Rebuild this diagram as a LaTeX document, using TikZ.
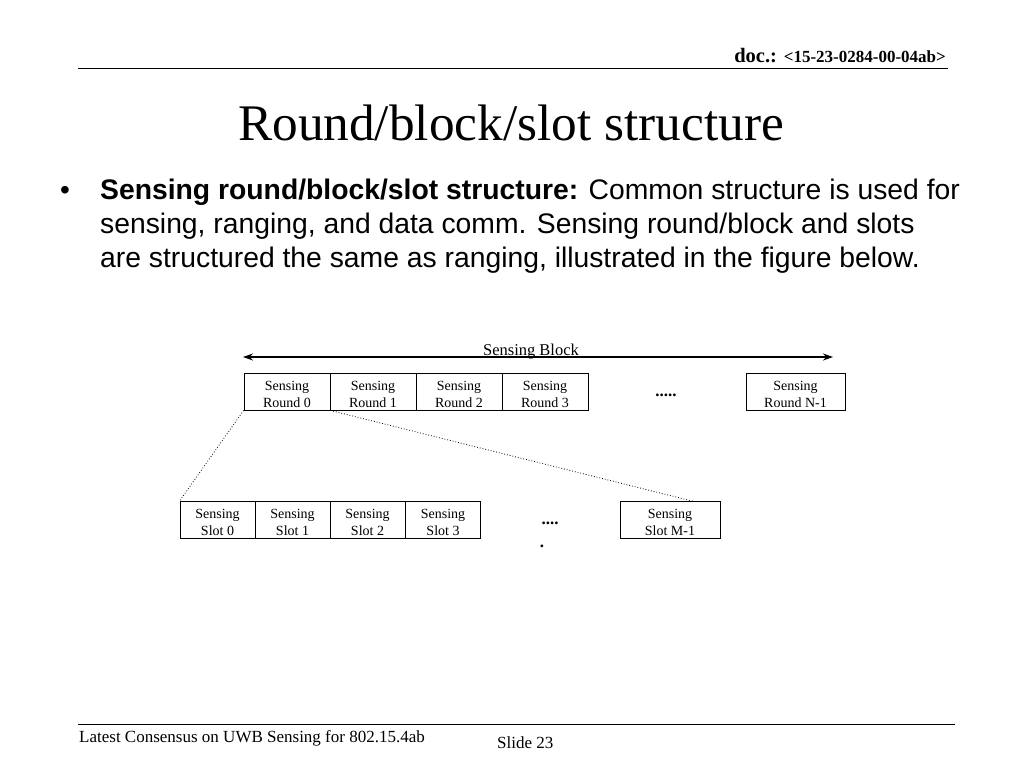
\documentclass[tikz,border=0pt]{standalone}
\usepackage{fontspec}
\setmainfont{Liberation Serif}
\newfontfamily\arialf{Liberation Sans}
\usetikzlibrary{arrows.meta}
\newcommand\celltxt[2]{\raisebox{-7.5pt}[0pt][0pt]{\begin{tabular}{@{}c@{}}#1\\#2\end{tabular}}}
\begin{document}
\begin{tikzpicture}[x=1pt,y=-1pt,
  cell/.style={draw, line width=0.9pt, minimum height=37pt, inner sep=0pt,
    font=\fontsize{14}{17}\selectfont},
  link/.style={dotted, line width=0.8pt},
  rule/.style={line width=1pt},
  body/.style={anchor=base west, inner sep=0pt, font=\arialf\fontsize{28.3}{34}\selectfont}]
\useasboundingbox (0,0) rectangle (1024,768);
% header
\node[anchor=base east, inner sep=0pt] (doc) at (946,63) {\bfseries\fontsize{20.5}{22}\selectfont doc.: \fontsize{17}{20}\selectfont <15-23-0284-00-04ab>};
\coordinate (hl) at (78,68); \coordinate (hr) at (948,68);
\draw[rule] (hl) -- (hr);
% title
\node[anchor=base, inner sep=0pt] (title) at (511,140) {\fontsize{51.3}{56}\selectfont Round/block/slot structure};
% bullet
\node[anchor=base west, inner sep=0pt] (bul) at (60,199) {\arialf\fontsize{28}{34}\selectfont •};
\node[body] (l1) at (100,199) {\textbf{Sensing round/block/slot structure:} Common structure is used for};
\node[body] (l2) at (100,233) {sensing, ranging, and data comm. Sensing round/block and slots};
\node[body] (l3) at (100,267) {are structured the same as ranging, illustrated in the figure below.};
% block arrow
\node[anchor=base, inner sep=0pt, font=\fontsize{16.5}{18}\selectfont] (blk) at (531,355) {Sensing Block};
\coordinate (al) at (243,357); \coordinate (ar) at (833,357);
\draw[line width=1.1pt, {Stealth[length=10pt,width=7pt]}-{Stealth[length=10pt,width=7pt]}] (al) -- (ar);
% rounds
\node[cell, minimum width=86pt] (r0) at (287,391.5) {\celltxt{Sensing}{Round 0}};
\node[cell, minimum width=86pt] (r1) at (373,391.5) {\celltxt{Sensing}{Round 1}};
\node[cell, minimum width=86pt] (r2) at (459,391.5) {\celltxt{Sensing}{Round 2}};
\node[cell, minimum width=86pt] (r3) at (545,391.5) {\celltxt{Sensing}{Round 3}};
\node[inner sep=0pt, font=\fontsize{17}{18}\selectfont] (rd) at (666,395) {\textbf{.....}};
\node[cell, minimum width=99pt] (rn) at (795.5,391.5) {\celltxt{Sensing}{Round N-1}};
% slots
\node[cell, minimum width=75pt] (s0) at (217.5,520) {\celltxt{Sensing}{Slot 0}};
\node[cell, minimum width=75pt] (s1) at (292.5,520) {\celltxt{Sensing}{Slot 1}};
\node[cell, minimum width=75pt] (s2) at (367.5,520) {\celltxt{Sensing}{Slot 2}};
\node[cell, minimum width=75pt] (s3) at (443,520) {\celltxt{Sensing}{Slot 3}};
\node[inner sep=0pt, font=\fontsize{17}{18}\selectfont] (sd) at (550,523) {\textbf{....}};
\node[inner sep=0pt, font=\fontsize{17}{18}\selectfont] (sd2) at (542,546) {\textbf{.}};
\node[cell, minimum width=100pt] (sn) at (670,520) {\celltxt{Sensing}{Slot M-1}};
% zoom links
\coordinate (snt) at (694,501.5);
\draw[link] (r0.south west) -- (s0.north west);
\draw[link] (r0.south east) -- (snt);
% footer
\coordinate (fl) at (78,724); \coordinate (fr) at (955,724);
\draw[rule] (fl) -- (fr);
\node[anchor=base west, inner sep=0pt, font=\fontsize{17}{19}\selectfont] (ft) at (79,742) {Latest Consensus on UWB Sensing for 802.15.4ab};
\node[anchor=base west, inner sep=0pt, font=\fontsize{17}{19}\selectfont] (sl) at (497,748) {Slide 23};
\end{tikzpicture}
\end{document}
